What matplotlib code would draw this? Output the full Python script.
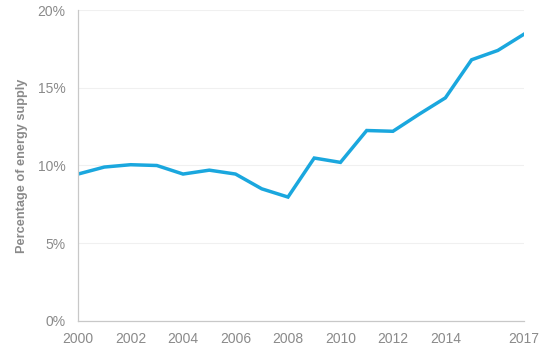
import matplotlib.pyplot as plt
from matplotlib.ticker import FuncFormatter

years = list(range(2000, 2018))
share = [9.45, 9.9, 10.05, 10.0, 9.45, 9.7, 9.45, 8.5, 7.97, 10.48,
         10.2, 12.25, 12.2, 13.3, 14.35, 16.8, 17.4, 18.45]
xticks = [2000, 2002, 2004, 2006, 2008, 2010, 2012, 2014, 2017]
yticks = [0, 5, 10, 15, 20]

plt.rcParams["font.family"] = ["Liberation Sans", "DejaVu Sans"]
grey = "#8a8a8a"

fig = plt.figure(figsize=(5.54, 3.51), dpi=100)
ax = fig.add_axes([0.141, 0.0855, 0.805, 0.886])
ax.plot(years, share, color="#1aa7de", lw=2.5, solid_joinstyle="miter")

ax.set_xlim(2000, 2017)
ax.set_ylim(0, 20)
ax.set_xticks(xticks)
ax.set_yticks(yticks)
ax.yaxis.set_major_formatter(FuncFormatter(lambda v, _: f"{v:.0f}%"))
ax.grid(axis="y", color="#f0f0f0", lw=0.8)
ax.set_axisbelow(True)

for s in ["top", "right"]:
    ax.spines[s].set_visible(False)
for s in ["left", "bottom"]:
    ax.spines[s].set_color("#c8c8c8")
    ax.spines[s].set_linewidth(0.9)

ax.tick_params(length=0, colors=grey, labelsize=10)
ax.tick_params(axis="x", pad=8)
ax.tick_params(axis="y", pad=9)
ax.set_ylabel("Percentage of energy supply", color=grey, fontsize=9.2,
              fontweight="bold", labelpad=7)

fig.savefig("out.png", dpi=100)
